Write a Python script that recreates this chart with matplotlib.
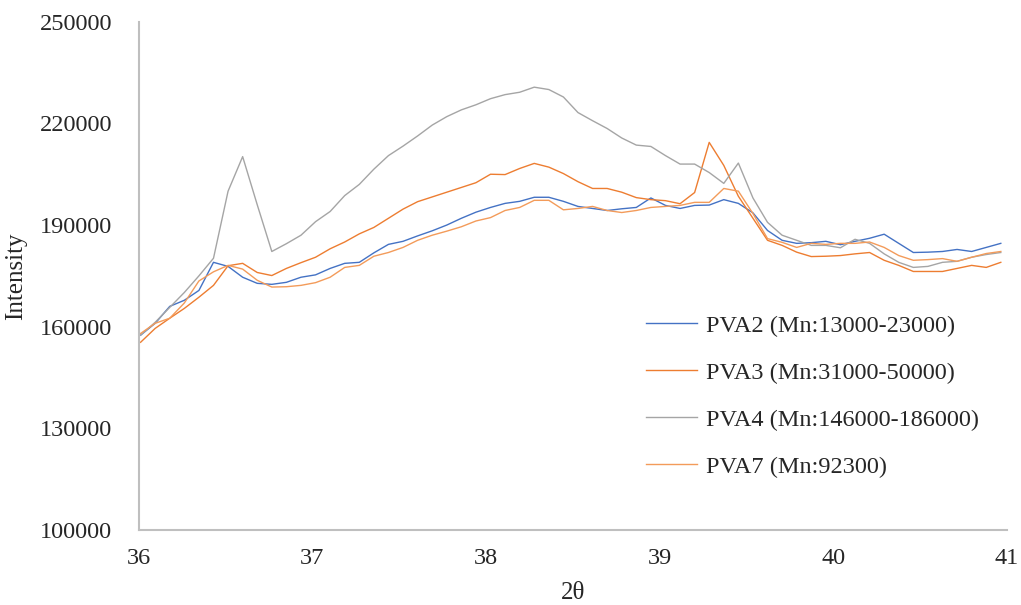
import numpy as np
import matplotlib
matplotlib.use('Agg')
import matplotlib.pyplot as plt

# 2theta positions of the scan
two_theta = [36.010, 36.094, 36.178, 36.262, 36.346, 36.430, 36.514, 36.598, 36.682, 36.766,
             36.850, 36.934, 37.018, 37.102, 37.186, 37.270, 37.354, 37.438, 37.522, 37.606,
             37.690, 37.774, 37.858, 37.942, 38.026, 38.110, 38.194, 38.278, 38.362, 38.446,
             38.530, 38.614, 38.698, 38.782, 38.866, 38.950, 39.034, 39.118, 39.202, 39.286,
             39.370, 39.454, 39.538, 39.622, 39.706, 39.790, 39.874, 39.958, 40.042, 40.126,
             40.210, 40.294, 40.378, 40.462, 40.546, 40.630, 40.714, 40.798, 40.882, 40.966]

pva2 = [157500, 161000, 166000, 167800, 170700, 179000, 177800, 174600, 172800, 172500,
        173100, 174600, 175300, 177200, 178700, 179000, 181800, 184300, 185200, 186800,
        188300, 190000, 192000, 193800, 195200, 196400, 197000, 198200, 198200, 197000,
        195500, 194900, 194300, 194800, 195200, 198000, 195800, 194900, 195800, 195900,
        197500, 196400, 193600, 188400, 185500, 184600, 184800, 185200, 184200, 185200,
        186100, 187300, 184600, 181900, 182000, 182200, 182800, 182200, 183400, 184600]

pva3 = [155400, 159500, 162500, 165400, 168700, 172200, 178000, 178700, 176000, 175100,
        177200, 178900, 180500, 183000, 185000, 187400, 189300, 192000, 194700, 196900,
        198300, 199700, 201100, 202500, 205000, 204900, 206700, 208200, 207100, 205200,
        202800, 200800, 200800, 199700, 198100, 197500, 197200, 196300, 199600, 214400,
        207600, 198500, 192000, 185500, 184000, 182000, 180700, 180800, 181000, 181500,
        181900, 179600, 178100, 176300, 176300, 176300, 177200, 178100, 177500, 179000]

pva4 = [157500, 161300, 165700, 170100, 175000, 180200, 200000, 210200, 196000, 182200,
        184500, 187000, 191000, 194000, 198700, 202000, 206500, 210500, 213300, 216300,
        219500, 222000, 224000, 225500, 227300, 228500, 229200, 230700, 230000, 227800,
        223200, 220800, 218500, 215700, 213600, 213200, 210500, 208000, 208000, 205500,
        202300, 208300, 198000, 190800, 187000, 185500, 184000, 184000, 183300, 185800,
        184600, 181500, 179000, 177500, 177800, 179000, 179300, 180500, 181300, 181900]

pva7 = [158000, 161000, 162500, 167000, 173500, 176200, 178100, 177000, 173700, 171700,
        171800, 172200, 173000, 174600, 177500, 178100, 180800, 181900, 183400, 185500,
        187000, 188200, 189500, 191200, 192200, 194300, 195200, 197300, 197300, 194500,
        194900, 195500, 194300, 193700, 194300, 195200, 195500, 195800, 196700, 196700,
        200800, 200000, 193400, 186000, 184900, 183400, 184600, 184300, 184600, 184600,
        185000, 183400, 181000, 179600, 179800, 180100, 179300, 180500, 181600, 182200]

labels = ["PVA2 (Mn:13000-23000)", "PVA3 (Mn:31000-50000)",
          "PVA4 (Mn:146000-186000)", "PVA7 (Mn:92300)"]
colors = ["#4472C4", "#ED7D31", "#A5A5A5", "#F39B5A"]

plt.rcParams['font.family'] = ['Liberation Serif', 'DejaVu Serif']

fig = plt.figure(figsize=(10.21, 6.05), dpi=100)
ax = fig.add_axes([0.136, 0.124, 0.850, 0.840])

for series, label, color in zip([pva2, pva3, pva4, pva7], labels, colors):
    ax.plot(two_theta, series, color=color, linewidth=1.0, label=label)

ax.set_xlim(36, 41)
ax.set_ylim(100000, 250000)
ax.set_xticks([36, 37, 38, 39, 40, 41])
ax.set_yticks(np.arange(100000, 250001, 30000))
ax.tick_params(axis='both', length=0, labelsize=17.5, colors='#262626')
ax.tick_params(axis='y', pad=19)
ax.tick_params(axis='x', pad=13)

for side in ['top', 'right']:
    ax.spines[side].set_visible(False)
for side in ['left', 'bottom']:
    ax.spines[side].set_color('#BFBFBF')
    ax.spines[side].set_linewidth(1.5)

ax.set_xlabel('2θ', fontsize=18, color='#262626', labelpad=9)
ax.set_ylabel('Intensity', fontsize=18, color='#262626', labelpad=9)

fig.legend(loc='center left', bbox_to_anchor=(0.611, 0.345), frameon=False,
           fontsize=17.5, handlelength=2.1, handletextpad=0.4, labelspacing=1.03,
           labelcolor='#262626')

fig.savefig('out.png', dpi=100)
plt.close(fig)
